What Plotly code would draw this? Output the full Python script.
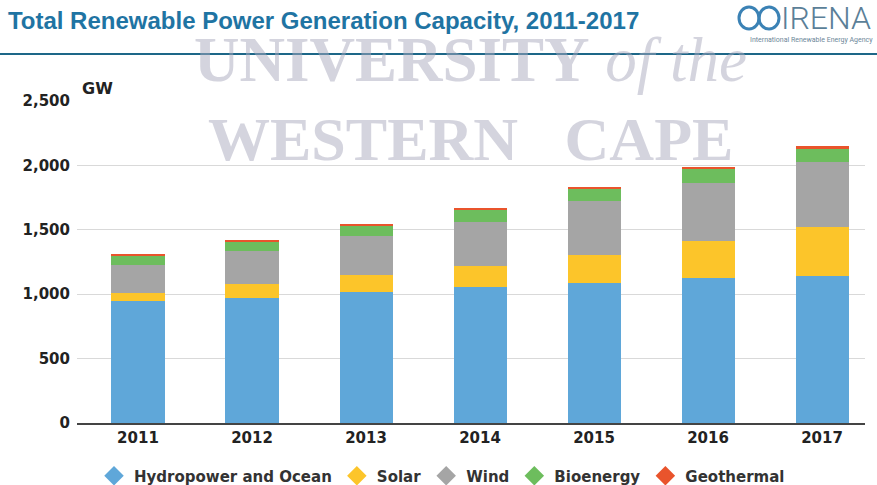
import plotly.graph_objects as go

# data (GW)
years = ["2011", "2012", "2013", "2014", "2015", "2016", "2017"]
hydro = [947, 973, 1019, 1058, 1085, 1123, 1141]
solar = [66, 104, 130, 163, 219, 290, 383]
wind = [214, 258, 303, 342, 416, 453, 502]
bioenergy = [73, 74, 78, 98, 97, 110, 109]
geothermal = [12, 12, 13, 12, 12, 12, 13]

series = [
    ("Hydropower and Ocean", hydro, "#5fa7d9"),
    ("Solar", solar, "#fcc52a"),
    ("Wind", wind, "#a5a5a5"),
    ("Bioenergy", bioenergy, "#6dbd5d"),
    ("Geothermal", geothermal, "#e9542c"),
]

W, H = 877, 485
L, R, T, B = 77, 12, 101, 62
pw, ph = W - L - R, H - T - B


def px(x):
    return (x - L) / pw


def py(y):
    return (H - B - y) / ph


fig = go.Figure()

for name, vals, col in series:
    fig.add_trace(go.Bar(x=years, y=vals, name=name, marker=dict(color=col, line=dict(width=0)),
                         showlegend=False))

# legend entries with diamond symbols
for name, vals, col in series:
    fig.add_trace(go.Scatter(x=[None], y=[None], mode="markers", name=name,
                             marker=dict(symbol="diamond", size=15, color=col)))

fig.update_layout(
    width=W, height=H,
    margin=dict(l=L, r=R, t=T, b=B, autoexpand=False),
    barmode="stack",
    bargap=0.535,
    plot_bgcolor="white",
    paper_bgcolor="white",
    font=dict(family="DejaVu Sans", color="#222222"),
    title=dict(text="<b>Total Renewable Power Generation Capacity, 2011-2017</b>",
               x=0.009, xanchor="left", xref="container",
               y=1 - 21 / H, yanchor="middle", yref="container",
               font=dict(family="Liberation Sans", size=24, color="#1f74a3")),
    legend=dict(orientation="h", x=94 / W, xanchor="left", xref="container",
                y=1 - 476 / H, yanchor="middle", yref="container",
                traceorder="normal",
                font=dict(size=15, color="#333333", weight="bold"),
                itemwidth=30, tracegroupgap=0, bgcolor="rgba(0,0,0,0)"),
    xaxis=dict(range=[-0.535, 6.377], showgrid=False, showline=True, linecolor="#444444",
               linewidth=1.5, ticks="", automargin=False,
               tickfont=dict(size=15, weight="bold", color="#222222")),
    yaxis=dict(range=[0, 2500], tickvals=[0, 500, 1000, 1500, 2000, 2500],
               ticktext=["0", "500", "1,000", "1,500", "2,000", "2,500"],
               showgrid=True, gridcolor="#d9d9d9", gridwidth=1, zeroline=False,
               ticks="", ticklabelstandoff=6, automargin=False,
               tickfont=dict(size=15, weight="bold", color="#222222")),
)

wm = "rgba(170,170,190,0.5)"
annotations = [
    dict(text="<b>GW</b>", x=px(80), y=py(89), xref="paper", yref="paper",
         xanchor="left", yanchor="middle", showarrow=False,
         font=dict(size=16, color="#222222")),
    dict(text="IRENA", x=px(873), y=py(18), xref="paper", yref="paper",
         xanchor="right", yanchor="middle", showarrow=False,
         font=dict(family="Roboto", size=32, weight=300, color="#5b7f98")),
    dict(text="International Renewable Energy Agency", x=px(875), y=py(40), xref="paper",
         yref="paper", xanchor="right", yanchor="middle", showarrow=False,
         font=dict(family="Roboto", size=7, color="#6d8799")),
    # watermark
    dict(text="<b>UNIVERSITY</b> <i>of the</i>", x=px(470), y=py(60), xref="paper", yref="paper",
         xanchor="center", yanchor="middle", showarrow=False,
         font=dict(family="Liberation Serif", size=63, color=wm)),
    dict(text="<b>WESTERN   CAPE</b>", x=px(470), y=py(139), xref="paper", yref="paper",
         xanchor="center", yanchor="middle", showarrow=False,
         font=dict(family="Liberation Serif", size=62, color=wm)),
]
fig.update_layout(annotations=annotations)

shapes = [
    dict(type="line", xref="paper", yref="paper", x0=px(0), x1=px(W), y0=py(54), y1=py(54),
         line=dict(color="#1d6788", width=2), layer="below"),
    dict(type="circle", xref="paper", yref="paper", x0=px(739), x1=px(759), y0=py(29), y1=py(7),
         line=dict(color="#3b82b5", width=3)),
    dict(type="circle", xref="paper", yref="paper", x0=px(759), x1=px(779), y0=py(29), y1=py(7),
         line=dict(color="#3b82b5", width=3)),
]
fig.update_layout(shapes=shapes)

fig.write_html("out.html", config={"displayModeBar": False},
               post_script="document.body.style.margin='0';")
